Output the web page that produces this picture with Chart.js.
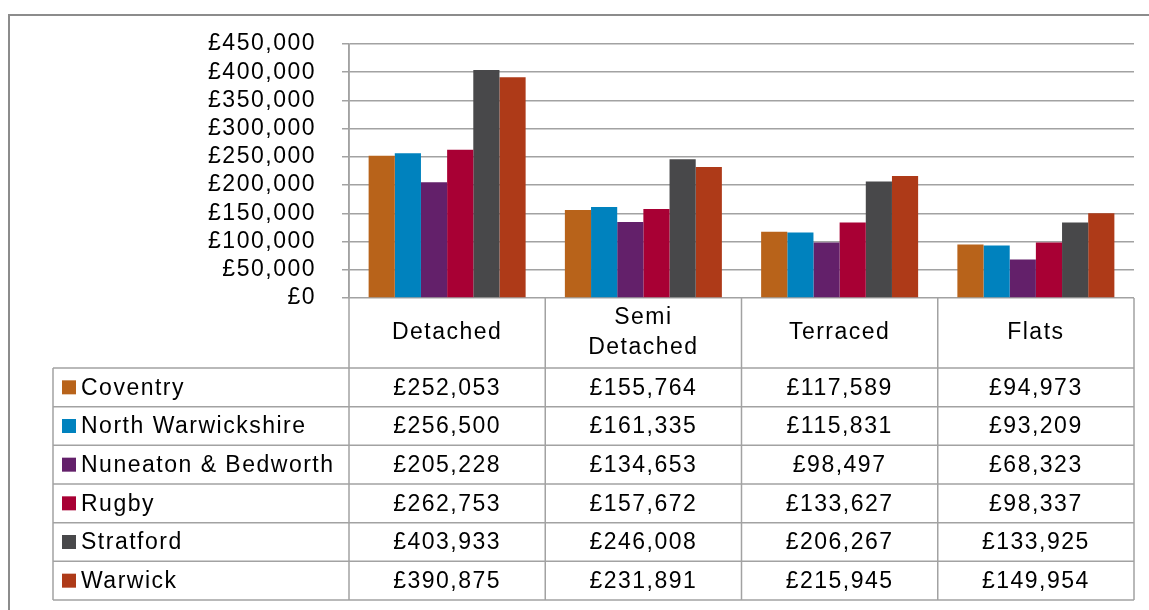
<!DOCTYPE html>
<html>
<head>
<meta charset="utf-8">
<script src="https://cdn.jsdelivr.net/npm/chart.js@4/dist/chart.umd.min.js"></script>
<style>
  body { margin: 0; background: #fff; }
  #wrap { width: 1149px; height: 610px; }
</style>
</head>
<body>
<div id="wrap"><canvas id="priceChart" width="1149" height="610"></canvas></div>
<script>
// House types along the x axis (header row of the table)
const categories = [['Detached'], ['Semi', 'Detached'], ['Terraced'], ['Flats']];

// Average prices per district: Detached, Semi Detached, Terraced, Flats
const coventry = [252053, 155764, 117589, 94973];
const northWarwickshire = [256500, 161335, 115831, 93209];
const nuneatonBedworth = [205228, 134653, 98497, 68323];
const rugby = [262753, 157672, 133627, 98337];
const stratford = [403933, 246008, 206267, 133925];
const warwick = [390875, 231891, 215945, 149954];

const districts = ['Coventry', 'North Warwickshire', 'Nuneaton & Bedworth', 'Rugby', 'Stratford', 'Warwick'];
const colours = ['#B8631A', '#0082BE', '#63206A', '#A80034', '#48484A', '#AE3A18'];
const seriesValues = [coventry, northWarwickshire, nuneatonBedworth, rugby, stratford, warwick];

const yMax = 450000;
const yStep = 50000;

const FONT = "'Liberation Sans', Arial, sans-serif";
const LINE = '#A2A2A2';
const SPACING = '1.5px';

const money = v => '£' + Number(v).toLocaleString('en-GB');

// Draws the outer frame and the data table under the plot
const dataTable = {
    id: 'dataTable',
    beforeLayout(chart) {
        chart.ctx.letterSpacing = SPACING;
    },
    beforeDraw(chart) {
        const c = chart.ctx;
        c.letterSpacing = SPACING;
        c.save();
        c.strokeStyle = '#8C8C8C';
        c.lineWidth = 2;
        c.strokeRect(9, 15, chart.width + 20, chart.height + 20);
        c.restore();
    },
    afterDraw(chart) {
        const c = chart.ctx;
        const x = chart.scales.x;
        const area = chart.chartArea;
        const half = (x.right - x.left) / categories.length / 2;
        const tableLeft = 53;
        const headerTop = area.bottom;
        const headerBottom = 368;
        const tableBottom = 600;
        const rowH = (tableBottom - headerBottom) / districts.length;

        c.save();
        c.strokeStyle = LINE;
        c.lineWidth = 1.5;

        // vertical lines: axis line + category boundaries
        c.beginPath();
        c.moveTo(x.left, area.top);
        c.lineTo(x.left, tableBottom);
        categories.forEach((cat, i) => {
            const bx = x.getPixelForValue(i) + half;
            c.moveTo(bx, headerTop);
            c.lineTo(bx, tableBottom);
        });
        c.moveTo(tableLeft, headerBottom);
        c.lineTo(tableLeft, tableBottom);
        // horizontal row lines
        for (let r = 0; r <= districts.length; r++) {
            const ry = headerBottom + r * rowH;
            c.moveTo(tableLeft, ry);
            c.lineTo(x.right, ry);
        }
        c.stroke();

        c.fillStyle = '#000';
        c.font = '23px ' + FONT;
        c.letterSpacing = SPACING;
        c.textBaseline = 'middle';

        // header labels
        c.textAlign = 'center';
        categories.forEach((cat, i) => {
            const cx = x.getPixelForValue(i);
            const mid = (headerTop + headerBottom) / 2;
            cat.forEach((line, k) => {
                c.fillText(line, cx, mid + (k - (cat.length - 1) / 2) * 30);
            });
        });

        // district rows
        districts.forEach((name, r) => {
            const cy = headerBottom + (r + 0.5) * rowH;
            c.fillStyle = colours[r];
            c.fillRect(62, cy - 7, 14, 14);
            c.fillStyle = '#000';
            c.textAlign = 'left';
            c.fillText(name, 81, cy + 1);
            c.textAlign = 'center';
            seriesValues[r].forEach((v, i) => {
                c.fillText(money(v), x.getPixelForValue(i), cy + 1);
            });
        });
        c.restore();
    }
};

const ctx = document.getElementById('priceChart').getContext('2d');
const priceChart = new Chart(ctx, {
    type: 'bar',
    data: {
        labels: categories.map(c => c.join(' ')),
        datasets: districts.map((name, i) => ({
            label: name,
            data: seriesValues[i],
            backgroundColor: colours[i],
            borderWidth: 0,
            categoryPercentage: 0.8,
            barPercentage: 1.0
        }))
    },
    options: {
        responsive: false,
        animation: false,
        layout: {
            padding: { top: 44, right: 15, bottom: 312, left: 0 }
        },
        plugins: {
            legend: { display: false },
            tooltip: { enabled: false }
        },
        scales: {
            x: { display: false },
            y: {
                min: 0,
                max: yMax,
                afterFit(scale) { scale.width = 349; },
                border: { color: LINE, width: 1.5 },
                grid: { color: LINE, lineWidth: 1.5, tickLength: 7 },
                ticks: {
                    stepSize: yStep,
                    autoSkip: false,
                    padding: 26,
                    color: '#000',
                    font: { family: FONT, size: 23, lineHeight: 1 },
                    callback: v => money(v)
                }
            }
        }
    },
    plugins: [dataTable]
});
</script>
</body>
</html>
